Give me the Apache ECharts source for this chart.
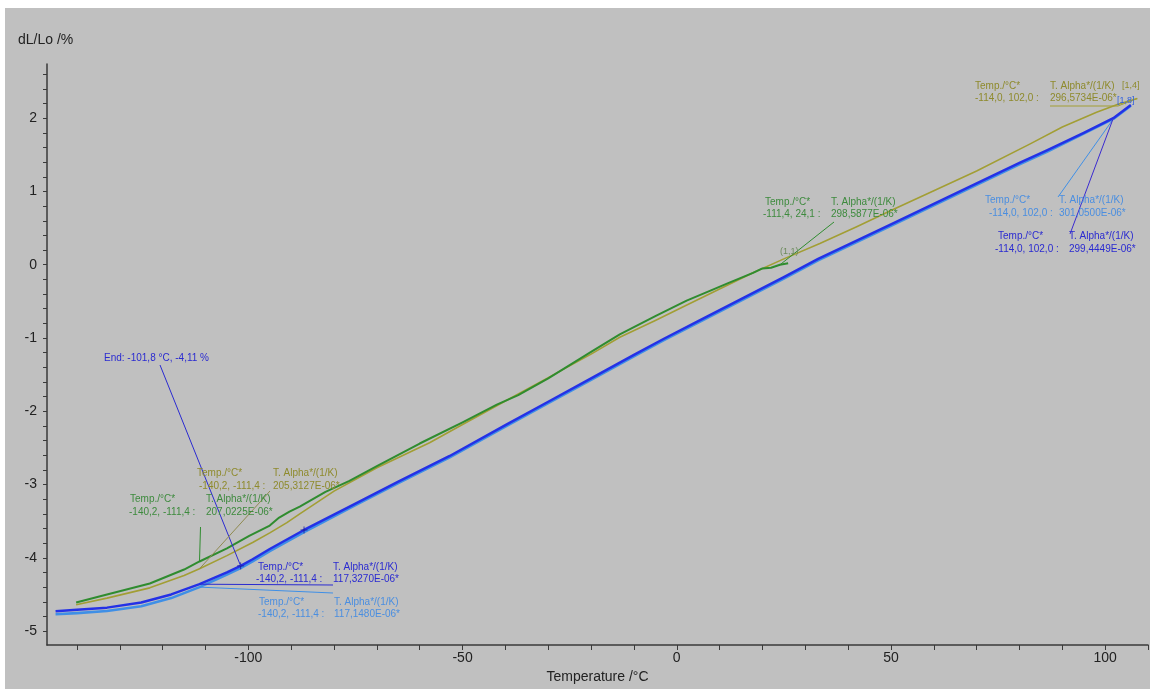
<!DOCTYPE html>
<html>
<head>
<meta charset="utf-8">
<script src="https://cdn.jsdelivr.net/npm/echarts@6/dist/echarts.min.js"></script>
<style>
  html, body { margin: 0; padding: 0; background: #ffffff; }
  #panel { position: absolute; left: 5px; top: 8px; width: 1145px; height: 681px; background: #c0c0c0; }
  #chart { position: absolute; left: 0; top: 0; width: 1150px; height: 689px; }
</style>
</head>
<body>
<div id="panel"></div>
<div id="chart"></div>
<script>
// Dilatometer run: relative length change dL/Lo (%) against temperature (°C)

// segment [1,8] – dark blue
const tempDarkBlue = [-145, -140, -133, -125, -118, -111.4, -105, -101.8, -99, -95, -87, -75, -65, -53, -40, -30, -20, -10, -3, 5, 15, 25, 33, 42, 50, 60, 70, 80, 86.4, 95, 101.9, 106];
const dlDarkBlue   = [-4.73, -4.71, -4.68, -4.61, -4.50, -4.36, -4.20, -4.11, -4.02, -3.88, -3.62, -3.26, -2.96, -2.61, -2.19, -1.87, -1.55, -1.23, -1.01, -0.77, -0.47, -0.17, 0.08, 0.33, 0.55, 0.83, 1.11, 1.39, 1.56, 1.80, 2.00, 2.18];

// light blue segment
const tempLightBlue = [-145, -140, -133, -125, -118, -111.4, -105, -101.8, -99, -95, -87, -75, -65, -53, -40, -30, -20, -10, -3, 5, 15, 25, 33, 42, 50, 60, 70, 80, 86.4, 95, 101.9, 106];
const dlLightBlue   = [-4.77, -4.755, -4.725, -4.66, -4.55, -4.40, -4.23, -4.14, -4.05, -3.91, -3.65, -3.28, -2.98, -2.63, -2.21, -1.89, -1.57, -1.25, -1.03, -0.79, -0.49, -0.19, 0.06, 0.31, 0.53, 0.81, 1.09, 1.37, 1.54, 1.79, 1.99, 2.17];

// segment [1,4] – olive
const tempOlive = [-140.2, -133, -123, -115, -111.4, -105, -99, -95, -91, -88, -80, -70, -57.7, -50, -40, -30, -20, -13.3, -5, 2, 10, 17.8, 25, 33.4, 42, 50, 60, 70, 82.5, 90, 98, 103, 107.5];
const dlOlive   = [-4.64, -4.55, -4.41, -4.24, -4.15, -3.97, -3.79, -3.66, -3.52, -3.40, -3.09, -2.77, -2.43, -2.18, -1.86, -1.54, -1.22, -0.99, -0.76, -0.56, -0.33, -0.11, 0.08, 0.29, 0.52, 0.74, 1.01, 1.28, 1.65, 1.88, 2.08, 2.19, 2.27];

// segment (1,1) – green
const tempGreen = [-140.2, -133, -123, -115, -111.4, -105, -99.8, -95, -92.8, -90.4, -88, -82, -76.4, -70, -60, -50, -42, -37, -30, -20, -13.3, -5, 2.3, 8, 12, 17.8, 20, 22, 24.1, 26];
const dlGreen   = [-4.61, -4.50, -4.35, -4.16, -4.05, -3.87, -3.70, -3.56, -3.45, -3.37, -3.30, -3.10, -2.95, -2.75, -2.44, -2.15, -1.91, -1.78, -1.55, -1.19, -0.95, -0.70, -0.49, -0.35, -0.25, -0.11, -0.05, -0.04, 0.00, 0.02];

// evaluation markers on the dark blue segment
const markerTemps = [-101.8, -87];
const markerDl    = [-4.11, -3.62];

// axes
const xLabelValues = [-100, -50, 0, 50, 100];
const xTickValues  = [-140, -130, -120, -110, -100, -90, -80, -70, -60, -50, -40, -30, -20, -10, 0, 10, 20, 30, 40, 50, 60, 70, 80, 90, 100, 110];
const yLabelValues = [-5, -4, -3, -2, -1, 0, 1, 2];
const yTickValues  = [-5, -4.8, -4.6, -4.4, -4.2, -4, -3.8, -3.6, -3.4, -3.2, -3, -2.8, -2.6, -2.4, -2.2, -2, -1.8, -1.6, -1.4, -1.2, -1, -0.8, -0.6, -0.4, -0.2, 0, 0.2, 0.4, 0.6, 0.8, 1, 1.2, 1.4, 1.6, 1.8, 2, 2.2, 2.4, 2.6];

const COL = {
  darkBlue: '#2431e6', lightBlue: '#3f8fe6', green: '#2f8c2f', olive: '#a29e34',
  darkBlueText: '#2a2ad0', lightBlueText: '#4a8ee0', greenText: '#3d8a3d', oliveText: '#8e8a2c'
};
const FONT = '"Liberation Sans", Arial, sans-serif';

const pairs = (ts, vs) => ts.map((t, i) => [t, vs[i]]);

const lineSeries = (name, ts, vs, color, width) => ({
  name, type: 'line', data: pairs(ts, vs),
  showSymbol: false, smooth: false,
  lineStyle: { color, width, join: 'round' }, itemStyle: { color },
  animation: false, silent: true
});

const chart = echarts.init(document.getElementById('chart'), null, { renderer: 'canvas' });

chart.setOption({
  animation: false,
  grid: { left: 47, right: 2, top: 64, bottom: 44, containLabel: false, outerBoundsMode: 'none' },
  xAxis: {
    type: 'value', min: -147, max: 110,
    name: 'Temperature /°C', nameLocation: 'middle', nameGap: 25,
    nameTextStyle: { color: '#222', fontSize: 14, fontFamily: FONT },
    axisLine: { show: true, onZero: false, lineStyle: { color: '#3a3a3a', width: 1.5 } },
    axisTick: { show: true, inside: false, length: 5, customValues: xTickValues, lineStyle: { color: '#3a3a3a' } },
    axisLabel: { customValues: xLabelValues, color: '#222', fontSize: 14, fontFamily: FONT, margin: 6 },
    splitLine: { show: false }
  },
  yAxis: {
    type: 'value', min: -5.19, max: 2.74,
    axisLine: { show: true, onZero: false, lineStyle: { color: '#3a3a3a', width: 1.5 } },
    axisTick: { show: true, inside: false, length: 4, customValues: yTickValues, lineStyle: { color: '#3a3a3a' } },
    axisLabel: { customValues: yLabelValues, color: '#222', fontSize: 14, fontFamily: FONT, margin: 10 },
    splitLine: { show: false }
  },
  series: [
    lineSeries('[1,4]', tempOlive, dlOlive, COL.olive, 1.6),
    lineSeries('(1,1)', tempGreen, dlGreen, COL.green, 2),
    lineSeries('light', tempLightBlue, dlLightBlue, COL.lightBlue, 2.6),
    lineSeries('[1,8]', tempDarkBlue, dlDarkBlue, COL.darkBlue, 2.5),
    {
      type: 'scatter', data: pairs(markerTemps, markerDl),
      symbol: 'path://M5,0 L5,10 M0,5 L10,5', symbolSize: 7,
      itemStyle: { color: 'none', borderColor: '#1a1a9a', borderWidth: 1 },
      animation: false, silent: true, z: 5
    }
  ]
});

// annotation overlay: text blocks plus leader lines tied to curve points
const px = (t, v) => chart.convertToPixel({ gridIndex: 0 }, [t, v]);
const g = [];
const txt = (x, y, s, fill, size, extra) => g.push(Object.assign({
  type: 'text', x, y, silent: true, z: 10,
  style: { text: s, fill, font: (size || 10) + 'px ' + FONT, textVerticalAlign: 'middle', verticalAlign: 'middle' }
}, extra || {}));
const seg = (pts, stroke, w) => g.push({
  type: 'polyline', silent: true, z: 9,
  shape: { points: pts }, style: { stroke, lineWidth: w || 1, fill: null }
});
// two-row evaluation block: header row and value row
const block = (x1, x2, y, rangeX, range, alpha, fill) => {
  txt(x1, y, 'Temp./°C*', fill);
  txt(x2, y, 'T. Alpha*/(1/K)', fill);
  txt(rangeX, y + 12.7, range, fill);
  txt(x2, y + 12.7, alpha, fill);
};

txt(18, 40, 'dL/Lo /%', '#222', 14);

// [1,4] upper range
block(975, 1050, 86, 975, '-114,0, 102,0 :', '296,5734E-06*', COL.oliveText);
txt(1122, 86, '[1,4]', COL.oliveText, 9);
seg([[1050, 106], [1118, 106], px(107.5, 2.27)], COL.olive, 1);

// light blue upper range
block(985, 1059, 200.5, 989, '-114,0, 102,0 :', '301,0500E-06*', COL.lightBlueText);
seg([px(101.9, 1.99), [1058, 197]], COL.lightBlue, 1);

// dark blue upper range
block(998, 1069, 236.5, 995, '-114,0, 102,0 :', '299,4449E-06*', COL.darkBlueText);
seg([px(101.9, 2.00), [1070, 234]], '#3a2ad0', 1);
txt(1117, 101, '[1,8]', '#3060e0', 9);

// green upper range
block(765, 831, 202, 763, '-111,4, 24,1 :', '298,5877E-06*', COL.greenText);
txt(780, 252, '(1,1)', '#6c8a5c', 9);
seg([[834, 222], px(24.1, 0.0)], COL.green, 1);

// end marker label
txt(104, 358, 'End: -101,8 °C, -4,11 %', COL.darkBlueText);
seg([[160, 365], px(-101.8, -4.11)], '#2a2ad0', 1);

// lower ranges
block(197, 273, 473.5, 199, '-140,2, -111,4 :', '205,3127E-06*', COL.oliveText);
seg([[270, 491], px(-111.4, -4.15)], '#8f8a50', 1);

block(130, 206, 499.5, 129, '-140,2, -111,4 :', '207,0225E-06*', COL.greenText);
seg([[200.5, 527], px(-111.4, -4.05)], COL.green, 1);

block(258, 333, 567, 256, '-140,2, -111,4 :', '117,3270E-06*', COL.darkBlueText);
seg([px(-111.4, -4.36), [333, 585]], '#2a2ad0', 1);

block(259, 334, 602, 258, '-140,2, -111,4 :', '117,1480E-06*', COL.lightBlueText);
seg([px(-111.4, -4.40), [333, 593]], COL.lightBlue, 1);

chart.setOption({ graphic: { elements: g } });
</script>
</body>
</html>
